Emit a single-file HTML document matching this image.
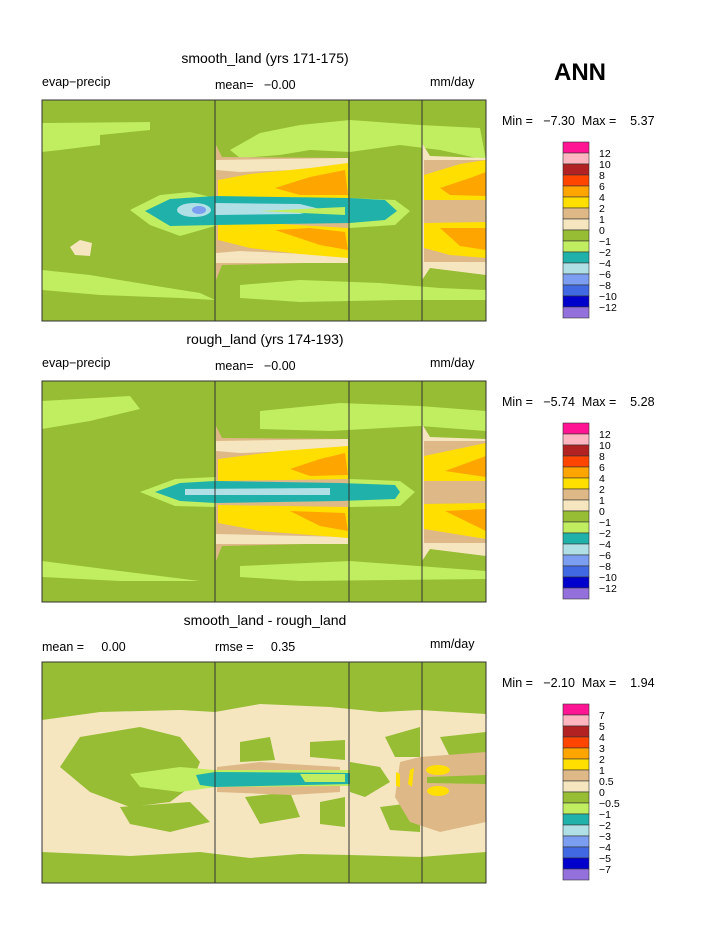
<!DOCTYPE html>
<html><head><meta charset="utf-8"><style>
body{margin:0;background:#fff;font-family:"Liberation Sans",sans-serif}
svg{display:block}
text{font-family:"Liberation Sans",sans-serif;fill:#000;white-space:pre}
</style></head><body>
<svg id="s" width="723" height="935" xml:space="preserve">
<defs>
<g id="mapA">
 <rect x="42" y="100" width="444" height="221" fill="#96bd33"/>
 <path d="M42,123 L150,122 L150,130 L100,135 L100,145 L60,150 L42,152Z" fill="#c0ee60"/>
 <path d="M260,133 L300,125 L350,120 L420,125 L480,128 L486,160 L440,150 L400,145 L350,152 L310,150 L280,155 L240,158 L230,150Z" fill="#c0ee60"/>
 <path d="M42,270 L90,275 L150,285 L200,293 L215,300 L180,298 L100,295 L42,290Z" fill="#c0ee60"/>
 <path d="M240,285 L300,280 L380,283 L440,288 L486,290 L486,300 L400,300 L300,302 L240,298Z" fill="#c0ee60"/>
 <path d="M130,210 L160,195 L190,192 L215,198 L350,198 L395,200 L410,211 L395,225 L350,228 L215,226 L180,236 L150,225Z" fill="#c0ee60"/>
 <path d="M216,145 L222,157 L348,158 L348,262 L222,265 L216,280Z" fill="#deb887"/>
 <path d="M216,160 L348,158 L348,168 L240,172 L216,170Z" fill="#f5e6c0"/>
 <path d="M216,253 L240,251 L348,256 L348,263 L216,263Z" fill="#f5e6c0"/>
 <path d="M218,180 L250,174 L310,168 L348,163 L348,198 L280,199 L218,200Z" fill="#ffdf00"/>
 <path d="M275,188 L310,177 L345,170 L348,195 L300,195Z" fill="#ffa500"/>
 <path d="M218,224 L280,224 L348,228 L348,258 L300,254 L250,248 L218,240Z" fill="#ffdf00"/>
 <path d="M275,230 L310,228 L345,232 L348,250 L320,245Z" fill="#ffa500"/>
 <path d="M145,211 L170,199 L215,196 L350,198 L385,200 L397,211 L385,220 L350,223 L215,225 L170,226Z" fill="#20b2aa"/>
 <path d="M215,203 L300,204 L320,209 L300,214 L215,215Z" fill="#b0e0e6"/>
 <ellipse cx="194" cy="210" rx="17" ry="7" fill="#b0e0e6"/>
 <ellipse cx="199" cy="210" rx="7" ry="4" fill="#7b9ef0"/>
 <path d="M260,211 L345,207 L345,215Z" fill="#c0ee60"/>
 <path d="M422,143 L430,156 L486,158 L486,275 L430,268 L422,280Z" fill="#f5e6c0"/>
 <path d="M424,160 L486,160 L486,262 L424,262Z" fill="#deb887"/>
 <path d="M424,175 L460,164 L486,160 L486,200 L424,200Z" fill="#ffdf00"/>
 <path d="M440,188 L470,178 L486,172 L486,196 L450,195Z" fill="#ffa500"/>
 <path d="M424,223 L486,222 L486,258 L450,255 L424,248Z" fill="#ffdf00"/>
 <path d="M440,228 L486,228 L486,250 L460,246Z" fill="#ffa500"/>
 <path d="M70,247 L80,240 L92,243 L90,256 L75,255Z" fill="#f5e6c0"/>
</g>
<g id="mapB">
 <rect x="42" y="100" width="444" height="221" fill="#96bd33"/>
 <path d="M42,120 L130,115 L140,128 L90,140 L42,148Z" fill="#c0ee60"/>
 <path d="M260,130 L340,122 L420,125 L486,130 L486,150 L420,145 L330,150 L260,148Z" fill="#c0ee60"/>
 <path d="M42,280 L120,290 L200,300 L120,300 L42,296Z" fill="#c0ee60"/>
 <path d="M240,285 L350,280 L486,290 L486,298 L300,300 L240,296Z" fill="#c0ee60"/>
 <path d="M140,211 L175,198 L215,196 L350,198 L400,200 L415,211 L400,225 L350,226 L215,226 L175,225Z" fill="#c0ee60"/>
 <path d="M216,145 L222,157 L348,158 L348,262 L222,265 L216,280Z" fill="#deb887"/>
 <path d="M216,160 L348,158 L348,168 L240,172 L216,170Z" fill="#f5e6c0"/>
 <path d="M216,253 L348,256 L348,263 L216,263Z" fill="#f5e6c0"/>
 <path d="M218,178 L280,170 L348,165 L348,198 L218,200Z" fill="#ffdf00"/>
 <path d="M290,188 L320,178 L345,172 L348,194 L310,195Z" fill="#ffa500"/>
 <path d="M218,224 L348,226 L348,257 L260,250 L218,242Z" fill="#ffdf00"/>
 <path d="M290,230 L345,232 L348,250 L320,245Z" fill="#ffa500"/>
 <path d="M155,211 L180,202 L215,200 L340,202 L395,204 L400,211 L395,218 L340,220 L215,222 L180,220Z" fill="#20b2aa"/>
 <path d="M185,208 L330,207 L330,214 L185,214Z" fill="#b0e0e6"/>
 <path d="M422,143 L430,156 L486,158 L486,275 L430,268 L422,280Z" fill="#f5e6c0"/>
 <path d="M424,160 L486,160 L486,262 L424,262Z" fill="#deb887"/>
 <path d="M424,175 L486,162 L486,200 L424,200Z" fill="#ffdf00"/>
 <path d="M445,190 L486,175 L486,196Z" fill="#ffa500"/>
 <path d="M424,223 L486,222 L486,258 L424,248Z" fill="#ffdf00"/>
 <path d="M445,230 L486,228 L486,250Z" fill="#ffa500"/>
</g>
<g id="mapC">
 <rect x="42" y="100" width="444" height="221" fill="#96bd33"/>
 <path d="M42,158 L100,150 L180,148 L215,150 L260,142 L330,145 L380,150 L420,148 L486,152 L486,290 L420,295 L350,293 L300,292 L250,296 L200,290 L130,294 L42,290Z" fill="#f5e6c0"/>
 <path d="M80,175 L140,165 L180,175 L200,200 L190,225 L170,240 L130,245 L90,230 L60,205Z" fill="#96bd33"/>
 <path d="M120,245 L190,240 L210,260 L170,270 L130,262Z" fill="#96bd33"/>
 <path d="M240,180 L270,175 L275,198 L240,200Z" fill="#96bd33"/>
 <path d="M310,180 L345,178 L345,198 L310,195Z" fill="#96bd33"/>
 <path d="M245,235 L290,230 L300,255 L260,262Z" fill="#96bd33"/>
 <path d="M320,240 L345,235 L345,265 L320,262Z" fill="#96bd33"/>
 <path d="M385,175 L420,165 L420,195 L395,195Z" fill="#96bd33"/>
 <path d="M380,245 L420,240 L420,270 L390,268Z" fill="#96bd33"/>
 <path d="M440,175 L486,170 L486,200 L450,195Z" fill="#96bd33"/>
 <path d="M440,220 L486,218 L486,232 L440,230Z" fill="#96bd33"/>
 <path d="M217,205 L260,200 L290,202 L340,205 L340,230 L290,233 L217,230Z" fill="#deb887"/>
 <path d="M400,200 L420,195 L486,190 L486,260 L440,270 L410,260 L395,235Z" fill="#deb887"/>
 <path d="M130,212 L180,205 L215,208 L350,208 L350,224 L215,225 L180,230 L140,225Z" fill="#c0ee60"/>
 <path d="M196,213 L215,210 L350,211 L350,222 L215,225 L200,223Z" fill="#20b2aa"/>
 <path d="M300,212 L345,212 L345,220 L305,220Z" fill="#c0ee60"/>
 <path d="M350,200 L380,205 L390,220 L365,235 L350,230Z" fill="#96bd33"/>
 <ellipse cx="438" cy="208" rx="12" ry="5" fill="#ffdf00"/>
 <ellipse cx="438" cy="229" rx="11" ry="5" fill="#ffdf00"/>
 <path d="M427,215 L486,213 L486,222 L427,221Z" fill="#96bd33"/>
 <path d="M396,210 L400,212 L400,225 L396,224Z" fill="#ffdf00"/>
 <path d="M410,208 L414,206 L412,225 L408,222Z" fill="#ffdf00"/>
</g>
</defs>

<text x="265" y="63" font-size="14" text-anchor="middle">smooth_land (yrs 171-175)</text>
<text x="580" y="80" font-size="24" font-weight="bold" text-anchor="middle">ANN</text>
<text x="265" y="344" font-size="14" text-anchor="middle">rough_land (yrs 174-193)</text>
<text x="265" y="625" font-size="14" text-anchor="middle">smooth_land - rough_land</text>

<g font-size="12.5" fill="#222">
<text x="42" y="86">evap−precip</text>
<text x="215" y="89">mean=   −0.00</text>
<text x="430" y="86">mm/day</text>
<text x="42" y="367">evap−precip</text>
<text x="215" y="370">mean=   −0.00</text>
<text x="430" y="367">mm/day</text>
<text x="42" y="651">mean =     0.00</text>
<text x="215" y="651">rmse =     0.35</text>
<text x="430" y="648">mm/day</text>
<text x="502" y="125">Min =   −7.30  Max =    5.37</text>
<text x="502" y="406">Min =   −5.74  Max =    5.28</text>
<text x="502" y="687">Min =   −2.10  Max =    1.94</text>
</g>

<g><use href="#mapA"/></g>
<g transform="translate(0,281)"><use href="#mapB"/></g>
<g transform="translate(0,562)"><use href="#mapC"/></g>
<g id="frames" fill="none" stroke="#333" stroke-width="1"></g>
<g id="cbars"></g>
</svg>
<script>
const colors=["#ff1493","#ffb6c1","#b22222","#ff4500","#ffa500","#ffdf00","#deb887","#f5e6c0","#96bd33","#c0ee60","#20b2aa","#b0e0e6","#7b9ef0","#4169e1","#0000cd","#9370db"];
const levelsA=["12","10","8","6","4","2","1","0","−1","−2","−4","−6","−8","−10","−12"];
const levelsC=["7","5","4","3","2","1","0.5","0","−0.5","−1","−2","−3","−4","−5","−7"];
const panelTops=[100,381,662];
const cbarTops=[142,423,704];
const NS="http://www.w3.org/2000/svg";
const fr=document.getElementById('frames');
panelTops.forEach((t,i)=>{
  const r=document.createElementNS(NS,'rect');
  r.setAttribute('x',42);r.setAttribute('y',t);r.setAttribute('width',444);r.setAttribute('height',221);
  
  
  fr.appendChild(r);
  [215,349,422].forEach(x=>{
    const l=document.createElementNS(NS,'line');
    l.setAttribute('x1',x);l.setAttribute('x2',x);l.setAttribute('y1',t);l.setAttribute('y2',t+221);
    
    
    fr.appendChild(l);
  });
});
const cb=document.getElementById('cbars');
const bh=11;
cbarTops.forEach((t,i)=>{
  const labels=i===2?levelsC:levelsA;
  colors.forEach((c,k)=>{
    const r=document.createElementNS(NS,'rect');
    r.setAttribute('x',563);r.setAttribute('y',t+k*bh);r.setAttribute('width',26);r.setAttribute('height',bh);
    r.setAttribute('fill',c);r.setAttribute('stroke','#333');r.setAttribute('stroke-width','0.6');
    
    
    cb.appendChild(r);
  });
  labels.forEach((s,k)=>{
    const tx=document.createElementNS(NS,'text');
    tx.setAttribute('x',599);tx.setAttribute('y',t+(k+1)*bh+4);tx.setAttribute('font-size','10.5');
    tx.textContent=s;
    
    
    cb.appendChild(tx);
  });
});
</script>
</body></html>
